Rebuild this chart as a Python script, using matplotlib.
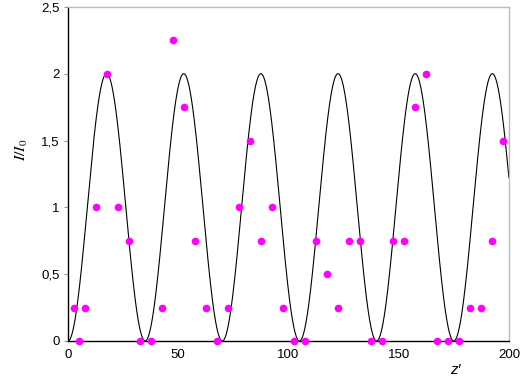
import numpy as np
import matplotlib.pyplot as plt
from matplotlib.ticker import FuncFormatter

# measured points (z', I/I0)
z_meas = [2.5, 5, 7.5, 12.5, 17.5, 22.5, 27.5, 32.5, 37.5, 42.5,
          47.5, 52.5, 57.5, 62.5, 67.5, 72.5, 77.5, 82.5, 87.5, 92.5,
          97.5, 102.5, 107.5, 112.5, 117.5, 122.5, 127.5, 132.5, 137.5, 142.5,
          147.5, 152.5, 157.5, 162.5, 167.5, 172.5, 177.5, 182.5, 187.5, 192.5,
          197.5]
i_meas = [0.25, 0, 0.25, 1, 2, 1, 0.75, 0, 0, 0.25,
          2.25, 1.75, 0.75, 0.25, 0, 0.25, 1, 1.5, 0.75, 1,
          0.25, 0, 0, 0.75, 0.5, 0.25, 0.75, 0.75, 0, 0,
          0.75, 0.75, 1.75, 2, 0, 0, 0, 0.25, 0.25, 0.75,
          1.5]

# theoretical curve I/I0 = 1 - cos(2*pi*z/period)
period = 35.0
z_max = 200
z_theory = np.linspace(0, z_max, 2000)
i_theory = 1 - np.cos(2 * np.pi * z_theory / period)

xticks = [0, 50, 100, 150, 200]
yticks = [0, 0.5, 1, 1.5, 2, 2.5]

plt.rcParams['font.family'] = ['Liberation Sans', 'DejaVu Sans']
plt.rcParams['mathtext.fontset'] = 'stix'

fig = plt.figure(figsize=(5.23, 3.81), dpi=100)
ax = fig.add_axes([0.130, 0.105, 0.843, 0.877])

ax.plot(z_theory, i_theory, color='black', lw=0.8, zorder=2)
ax.plot(z_meas, i_meas, 'o', color='#ff00ff', ms=5.5, mec='none', zorder=3, clip_on=False)

ax.set_xlim(0, 200)
ax.set_ylim(0, 2.5)
ax.set_xticks(xticks)
ax.set_yticks(yticks)
ax.yaxis.set_major_formatter(FuncFormatter(lambda v, p: ('%g' % v).replace('.', ',')))
ax.tick_params(axis='both', labelsize=9.5, length=3, color='#999999', pad=3)
ax.tick_params(axis='x', length=0, pad=6)

for s in ['top', 'right']:
    ax.spines[s].set_color('#bbbbbb')
    ax.spines[s].set_linewidth(1)
for s in ['left', 'bottom']:
    ax.spines[s].set_color('black')
    ax.spines[s].set_linewidth(1)

ax.set_ylabel('$I/I_0$', fontsize=11.5)
ax.yaxis.set_label_coords(-0.086, 0.572)
ax.text(0.878, -0.087, "z\u2032", transform=ax.transAxes, fontsize=11,
        style='italic', ha='center', va='center')

fig.savefig('out.png', dpi=100)
